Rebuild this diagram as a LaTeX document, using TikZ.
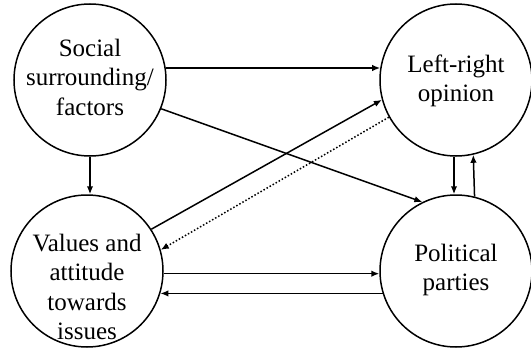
\documentclass[tikz,border=0pt]{standalone}
\usepackage{fontspec}
\setmainfont{Liberation Serif}
\usetikzlibrary{arrows.meta}

\begin{document}
\begin{tikzpicture}[x=1pt, y=1pt, >={Latex[length=8pt,width=6.5pt]}, circ/.style={draw,circle,line width=1.5pt,minimum size=152pt,inner sep=0pt},txt/.style={align=center,font=\fontsize{25}{29.5}\selectfont},arr/.style={->,line width=1.5pt}]
              \useasboundingbox (0,0) rectangle (531,349);
              \node[circ,label={[txt,name=socT,yshift=3pt]center:Social\\surrounding/\\factors}] (soc) at (90,269) {};
              \node[circ,label={[txt,name=lrT,yshift=-1pt]center:Left-right\\opinion}] (lr) at (456,269) {};
              \node[circ,label={[txt,name=valT,yshift=-16pt]center:Values and\\attitude\\towards\\issues}] (val) at (87,78) {};
              \node[circ,label={[txt,name=polT,yshift=1pt]center:Political\\parties}] (pol) at (456,78) {};

              \draw[arr] (soc.9) -- (lr.171);
              \draw[arr] (soc.-22) -- (pol.116);
              \draw[arr] (soc.south) -- (soc.south |- val.north);
              \draw[arr] (val.33) -- (lr.195);
              \draw[arr,dotted] (lr.209) -- (val.16);
              \draw[arr] (val.-2) -- (pol.182);
              \draw[arr] (pol.197.6) -- (val.-17.6);
              \draw[arr] ([xshift=-2pt]lr.south) -- ([xshift=-2pt]lr.south |- pol.north);
              \draw[arr] (pol.76.3) -- (lr.283.7);
            \end{tikzpicture}
\end{document}
